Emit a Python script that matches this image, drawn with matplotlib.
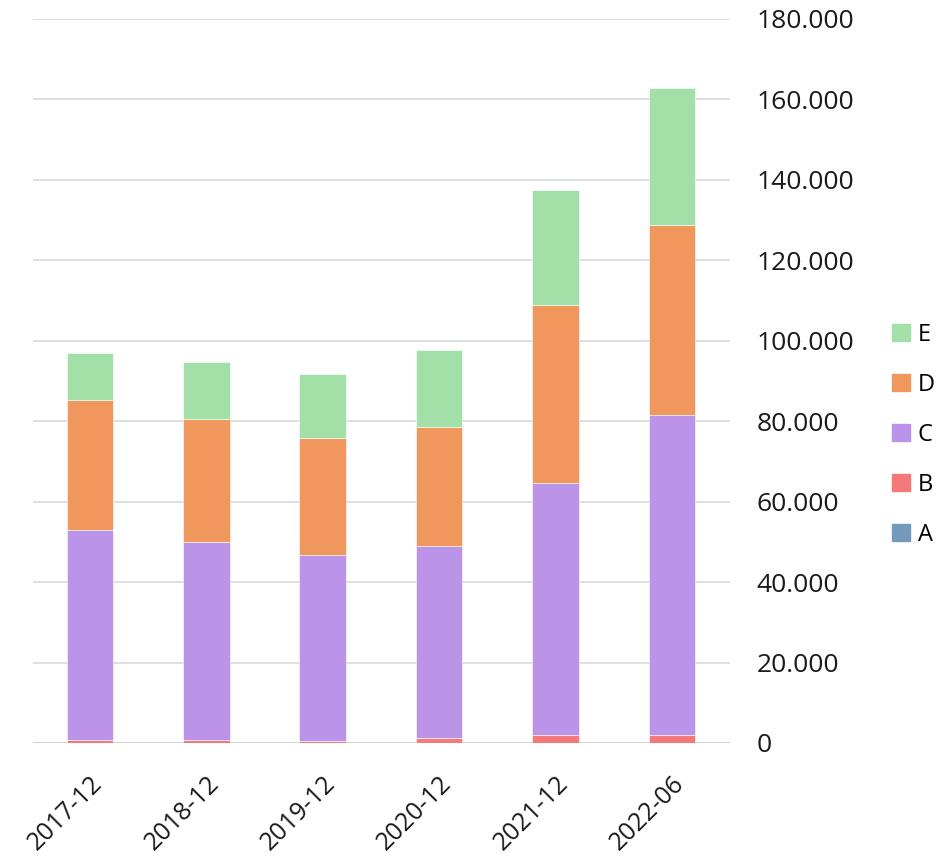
import matplotlib.pyplot as plt
from matplotlib.ticker import FuncFormatter, MultipleLocator
from matplotlib.patches import Patch
import numpy as np

plt.rcParams['font.family'] = ['Open Sans', 'DejaVu Sans']

categories = ['2017-12', '2018-12', '2019-12', '2020-12', '2021-12', '2022-06']
A = [50, 50, 50, 50, 60, 60]
B = [700, 700, 500, 1200, 1950, 1950]
C = [52200, 49230, 46240, 47740, 62640, 79550]
D = [32320, 30580, 29090, 29590, 44260, 47240]
E = [11690, 14170, 15920, 19140, 28590, 34050]

series = {'A': A, 'B': B, 'C': C, 'D': D, 'E': E}
colors = {'A': '#7599bb', 'B': '#f47a7a', 'C': '#bb93e8', 'D': '#f0975e', 'E': '#a3e0a8'}

fig = plt.figure(figsize=(9.46, 8.59), dpi=100)
ax = fig.add_axes([33 / 946, 1 - 743 / 859, (730 - 33) / 946, (743 - 19) / 859])

x = np.arange(len(categories))
bottom = np.zeros(len(categories))
for name, vals in series.items():
    ax.bar(x, vals, width=0.4, bottom=bottom, color=colors[name], zorder=3,
           edgecolor='white', linewidth=0.4)
    bottom += np.array(vals)

ax.set_xlim(-0.49, 5.5)
ax.set_ylim(0, 180000)
ax.yaxis.set_major_locator(MultipleLocator(20000))
ax.yaxis.set_major_formatter(FuncFormatter(lambda v, p: f'{int(v):,}'.replace(',', '.')))
ax.yaxis.tick_right()
ax.grid(axis='y', color='#d9d9d9', linewidth=1.2, zorder=0)
ax.tick_params(axis='y', length=0, pad=19, labelsize=19, labelcolor='#1a1a1a')
ax.tick_params(axis='x', length=0, pad=20, labelsize=18, labelcolor='#1a1a1a')
ax.set_xticks(x)
ax.set_xticklabels(categories, rotation=45, ha='right', rotation_mode='anchor')
for s in ax.spines.values():
    s.set_visible(False)
ax.axhline(0, color='#d0d0d0', linewidth=2, zorder=2)

handles = [Patch(color=colors[n], label=n) for n in reversed(list(series))]
fig.legend(handles=handles, loc='center left', bbox_to_anchor=(892 / 946, 1 - 435 / 859),
           frameon=False, fontsize=17, handlelength=0.75, handleheight=0.75,
           handletextpad=0.35, labelspacing=1.1, borderaxespad=0, borderpad=0)

fig.savefig('out.png', dpi=100)
